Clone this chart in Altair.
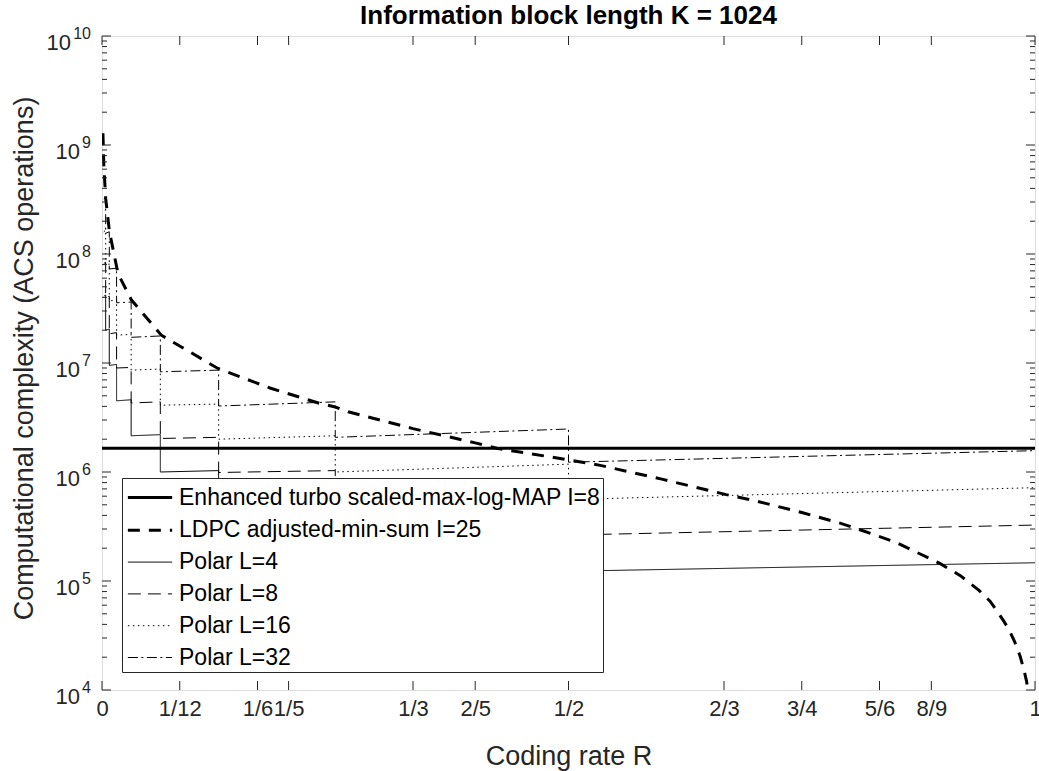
import altair as alt
import pandas as pd

FONT = "Liberation Sans"
INK = "#262626"
W, H = 933, 654

# ---- data -----------------------------------------------------------------
# Rate interval edges: the polar mother-code length doubles each time R halves
rate_edges = [1/512, 1/256, 1/128, 1/64, 1/32, 1/16, 1/8, 1/4, 1/2, 1]

# Polar SCL decoder complexity at the left / right end of each rate interval
polar_l4_left = [4.1e7, 2.0e7, 9.5e6, 4.5e6, 2.15e6, 1.0e6, 4.8e5, 2.4e5, 1.23e5]
polar_l4_right = [4.2e7, 2.05e7, 9.7e6, 4.6e6, 2.2e6, 1.03e6, 5.1e5, 2.7e5, 1.47e5]
polar_l8_left = [8.2e7, 4.0e7, 1.85e7, 9.0e6, 4.3e6, 2.03e6, 9.9e5, 5.0e5, 2.64e5]
polar_l8_right = [8.4e7, 4.1e7, 1.9e7, 9.1e6, 4.4e6, 2.08e6, 1.03e6, 5.5e5, 3.26e5]
polar_l16_left = [1.6e8, 7.9e7, 3.7e7, 1.8e7, 8.6e6, 4.1e6, 2.0e6, 1.0e6, 5.6e5]
polar_l16_right = [1.65e8, 8.1e7, 3.8e7, 1.83e7, 8.8e6, 4.2e6, 2.15e6, 1.18e6, 7.18e5]
polar_l32_left = [3.2e8, 1.55e8, 7.3e7, 3.57e7, 1.72e7, 8.3e6, 4.03e6, 2.08e6, 1.23e6]
polar_l32_right = [3.3e8, 1.6e8, 7.4e7, 3.62e7, 1.77e7, 8.6e6, 4.4e6, 2.48e6, 1.57e6]

# Turbo decoder complexity does not depend on the coding rate
turbo_rates = [0, 1]
turbo_values = [1.65e6, 1.65e6]

# LDPC decoder complexity versus coding rate
ldpc_rates = [0.001, 0.002, 0.004, 0.008, 0.0172, 0.0314, 0.0636, 0.1243, 0.18,
              0.2337, 0.25, 0.2637, 0.3333, 0.4, 0.423, 0.491, 0.534, 0.6, 0.669,
              0.7, 0.75, 0.791, 0.8124, 0.85, 0.898, 0.92, 0.94, 0.952, 0.96,
              0.966, 0.972, 0.978, 0.984, 0.988, 0.991, 0.9935]
ldpc_values = [1.28e9, 6.4e8, 3.2e8, 1.6e8, 6.6e7, 3.8e7, 1.8e7, 8.9e6, 5.9e6,
               4.25e6, 3.95e6, 3.57e6, 2.5e6, 1.85e6, 1.65e6, 1.33e6, 1.15e6, 8.6e5, 6.2e5,
               5.45e5, 4.25e5, 3.4e5, 2.95e5, 2.28e5, 1.45e5, 1.12e5, 8.2e4, 6.5e4, 5.2e4,
               4.35e4, 3.6e4, 2.8e4, 2.05e4, 1.55e4, 1.2e4, 8.5e3]

series_names = [
    "Enhanced turbo scaled-max-log-MAP I=8",
    "LDPC adjusted-min-sum I=25",
    "Polar L=4",
    "Polar L=8",
    "Polar L=16",
    "Polar L=32",
]
series_dash = [[1, 0], [12, 9], [1, 0], [13, 7], [1.5, 3.5], [10, 3.5, 2, 3.5]]
series_width = [3, 3, 1, 1, 1, 1]

x_tick_values = [0, 1/12, 1/6, 1/5, 1/3, 2/5, 1/2, 2/3, 3/4, 5/6, 8/9, 1]
x_tick_labels = ["0", "1/12", "1/6", "1/5", "1/3", "2/5", "1/2", "2/3", "3/4", "5/6", "8/9", "1"]
y_decades = [4, 5, 6, 7, 8, 9, 10]

# ---- long-form table ------------------------------------------------------
rows = []


def add(name, rates, values):
    for r, v in zip(rates, values):
        rows.append({"series": name, "R": r, "value": v, "idx": len(rows)})


def add_steps(name, left, right):
    rates, values = [], []
    for i in range(len(left)):
        rates += [rate_edges[i], rate_edges[i + 1]]
        values += [left[i], right[i]]
    add(name, rates, values)


add(series_names[0], turbo_rates, turbo_values)
add(series_names[1], ldpc_rates, ldpc_values)
add_steps(series_names[2], polar_l4_left, polar_l4_right)
add_steps(series_names[3], polar_l8_left, polar_l8_right)
add_steps(series_names[4], polar_l16_left, polar_l16_right)
add_steps(series_names[5], polar_l32_left, polar_l32_right)
curves = pd.DataFrame(rows)

# ---- scales / axes --------------------------------------------------------
x_scale = alt.Scale(domain=[0, 1], nice=False, zero=False)
y_scale = alt.Scale(type="log", domain=[1e4, 1e10], nice=False)

label_expr = "".join(
    f"abs(datum.value - {v!r}) < 1e-6 ? '{l}' : " for v, l in zip(x_tick_values, x_tick_labels)
) + "''"

x_axis = alt.Axis(
    values=x_tick_values, labelExpr=label_expr, ticks=False, domain=False, grid=False,
    labelFont=FONT, labelFontSize=22, labelColor=INK, labelPadding=8,
    labelOverlap=False, labelFlush=False, labelBound=False,
    title="Coding rate R", titleFont=FONT, titleFontSize=27, titleFontWeight="normal",
    titleColor=INK, titleX=W / 2, titleY=66, titleBaseline="middle", titleAlign="center")
y_axis = alt.Axis(
    labels=False, ticks=False, domain=False, grid=False,
    title="Computational complexity (ACS operations)", titleFont=FONT, titleFontSize=27,
    titleFontWeight="normal", titleColor=INK, titleX=-78, titleY=322,
    titleAngle=270, titleBaseline="middle", titleAlign="center")

xs = alt.X("R:Q", scale=x_scale, axis=x_axis)
ys = alt.Y("value:Q", scale=y_scale, axis=y_axis)

# legend sample lines are a horizontal path longer than the nominal symbol box
legend = alt.Legend(
    title=None, orient="none", legendX=20, legendY=442,
    fillColor="white", strokeColor=INK, padding=2, rowPadding=2.8,
    symbolType="M-1.4,0H1.4", symbolSize=1000, symbolOffset=8.5,
    labelFontSize=23, labelFont=FONT,
    labelColor="black", labelLimit=700, labelOffset=11.5, cornerRadius=0,
)

lines = alt.Chart(curves).mark_line(clip=True, strokeCap="butt").encode(
    x=xs,
    y=ys,
    color=alt.Color("series:N", scale=alt.Scale(domain=series_names, range=["black"] * 6), legend=legend),
    strokeDash=alt.StrokeDash("series:N", scale=alt.Scale(domain=series_names, range=series_dash), legend=legend),
    strokeWidth=alt.StrokeWidth("series:N", scale=alt.Scale(type="ordinal", domain=series_names, range=series_width), legend=legend),
    order="idx:Q",
)

# ---- inward tick marks on all four sides ----------------------------------
xt = pd.DataFrame({"R": x_tick_values})
y_major = pd.DataFrame({"value": [10.0 ** e for e in y_decades]})
y_minor = pd.DataFrame({"value": [m * 10.0 ** e for e in y_decades[:-1] for m in range(2, 10)]})

tick = dict(color=INK, strokeWidth=1)

ticks = [
    alt.Chart(xt).mark_rule(**tick).encode(x=xs, y=alt.value(H), y2=alt.value(H - 9)),
    alt.Chart(xt).mark_rule(**tick).encode(x=xs, y=alt.value(0), y2=alt.value(9)),
    alt.Chart(y_major).mark_rule(**tick).encode(y=ys, x=alt.value(0), x2=alt.value(9)),
    alt.Chart(y_major).mark_rule(**tick).encode(y=ys, x=alt.value(W), x2=alt.value(W - 9)),
    alt.Chart(y_minor).mark_rule(**tick).encode(y=ys, x=alt.value(0), x2=alt.value(5)),
    alt.Chart(y_minor).mark_rule(**tick).encode(y=ys, x=alt.value(W), x2=alt.value(W - 5)),
]

# ---- y tick labels: "10" with a raised exponent ---------------------------
ylab = pd.DataFrame({"value": [10.0 ** e for e in y_decades], "exp": [str(e) for e in y_decades]})
ylab_base = alt.Chart(ylab).transform_calculate(
    xb="length(datum.exp) > 1 ? -31 : -22"
).mark_text(align="right", baseline="middle", dy=7, font=FONT, fontSize=22, color=INK).encode(
    y=ys, x=alt.X("xb:Q", scale=None), text=alt.value("10"))
ylab_exp = alt.Chart(ylab).mark_text(
    align="right", baseline="middle", dy=-2, font=FONT, fontSize=16, color=INK
).encode(y=ys, x=alt.value(-11), text="exp:N")

chart = alt.layer(lines, *ticks, ylab_base, ylab_exp).properties(
    width=W, height=H,
    title=alt.TitleParams("Information block length K = 1024", font=FONT, fontSize=26,
                          fontWeight="bold", color="black", anchor="middle", frame="group",
                          offset=10, dy=13),
    autosize=alt.AutoSizeParams(type="none"),
    padding={"left": 102, "top": 36, "right": 4, "bottom": 81},
).configure_view(stroke=INK, strokeWidth=1).configure(background="white")

chart.save("out.html", embed_options={"renderer": "svg", "actions": False})
